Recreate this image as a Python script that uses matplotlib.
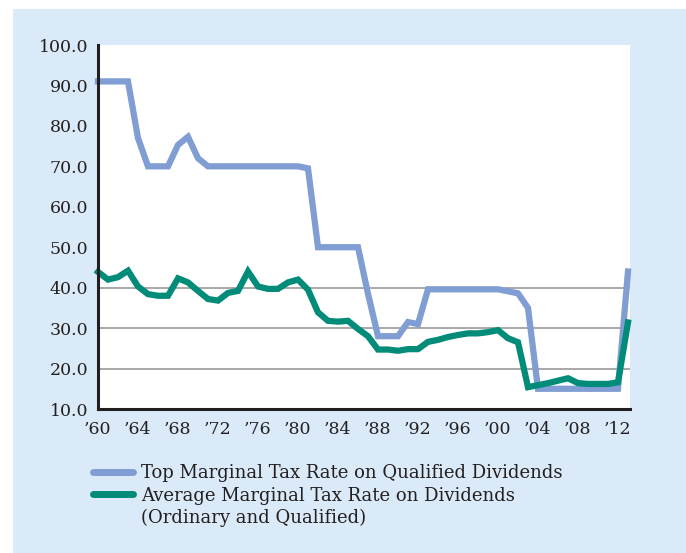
import matplotlib.pyplot as plt
from matplotlib.patches import Rectangle
from matplotlib.lines import Line2D

# Data
years = list(range(1960, 2014))
top_rate = [91, 91, 91, 91, 77, 70, 70, 70, 75.3, 77.3,
            72, 70, 70, 70, 70, 70, 70, 70, 70, 70,
            70, 69.5, 50, 50, 50, 50, 50, 38.5, 28, 28,
            28, 31.5, 31, 39.6, 39.6, 39.6, 39.6, 39.6, 39.6, 39.6,
            39.6, 39.1, 38.6, 35, 15, 15, 15, 15, 15, 15,
            15, 15, 15, 44]
avg_rate = [43.9, 42.0, 42.6, 44.2, 40.3, 38.4, 38.0, 38.0, 42.3, 41.3,
            39.2, 37.2, 36.8, 38.7, 39.2, 44.0, 40.3, 39.7, 39.7, 41.3,
            42.0, 39.5, 33.9, 31.8, 31.6, 31.8, 29.8, 28.0, 24.7, 24.7,
            24.4, 24.8, 24.8, 26.6, 27.1, 27.8, 28.3, 28.7, 28.7, 29.0,
            29.5, 27.5, 26.5, 15.4, 15.9, 16.4, 17.0, 17.6, 16.4, 16.2,
            16.2, 16.2, 16.6, 31.4]
yticks = [10, 20, 30, 40, 50, 60, 70, 80, 90, 100]
xticks = list(range(1960, 2013, 4))
grid_at = [20, 30, 40]
labels = ['Top Marginal Tax Rate on Qualified Dividends',
          'Average Marginal Tax Rate on Dividends',
          '(Ordinary and Qualified)']

blue = '#809DD4'
green = '#008C78'
panel = '#DAEAF8'
dark = '#231F20'

plt.rcParams['font.family'] = 'DejaVu Serif'

fig = plt.figure(figsize=(6.86, 5.53), dpi=100, facecolor='white')
fig.patches.append(Rectangle((13 / 686, 0), 1, 1 - 9 / 553, transform=fig.transFigure,
                             facecolor=panel, edgecolor='none', zorder=-10))

ax = fig.add_axes([98 / 686, 1 - 409 / 553, 532 / 686, 364 / 553])
ax.set_facecolor('white')

for g in grid_at:
    ax.axhline(g, color='#9A9A9A', lw=1.2, zorder=1)

l1, = ax.plot(years, top_rate, color=blue, lw=4.5, solid_joinstyle='miter', zorder=3,
              label=labels[0], clip_on=False)
l2, = ax.plot(years, avg_rate, color=green, lw=4.5, solid_joinstyle='miter', zorder=4,
              label=labels[1], clip_on=False)
blank = Line2D([], [], color='none', label=labels[2])

ax.set_xlim(1960, 2013.2)
ax.set_ylim(10, 100)
ax.set_yticks(yticks)
ax.set_yticklabels(['%.1f' % v for v in yticks])
ax.set_xticks(xticks)
ax.set_xticklabels(['\u2019%02d' % (y % 100) for y in xticks])
ax.tick_params(length=0, labelsize=12.5, colors=dark)
ax.tick_params(axis='y', pad=7)
ax.tick_params(axis='x', pad=9)

for side in ['top', 'right']:
    ax.spines[side].set_visible(False)
for side in ['left', 'bottom']:
    ax.spines[side].set_linewidth(2.2)
    ax.spines[side].set_color(dark)
    ax.spines[side].set_zorder(5)

leg = fig.legend(handles=[l1, l2, blank], loc='upper left', bbox_to_anchor=(93 / 686, 1 - 464 / 553),
                 frameon=False, fontsize=13, handlelength=2.2, handletextpad=0.45,
                 labelspacing=0.25, borderpad=0, borderaxespad=0)
for h in leg.legend_handles:
    h.set_solid_capstyle('round')
    h.set_linewidth(5)
for t in leg.get_texts():
    t.set_color(dark)

fig.savefig('out.png', dpi=100, facecolor=fig.get_facecolor())
